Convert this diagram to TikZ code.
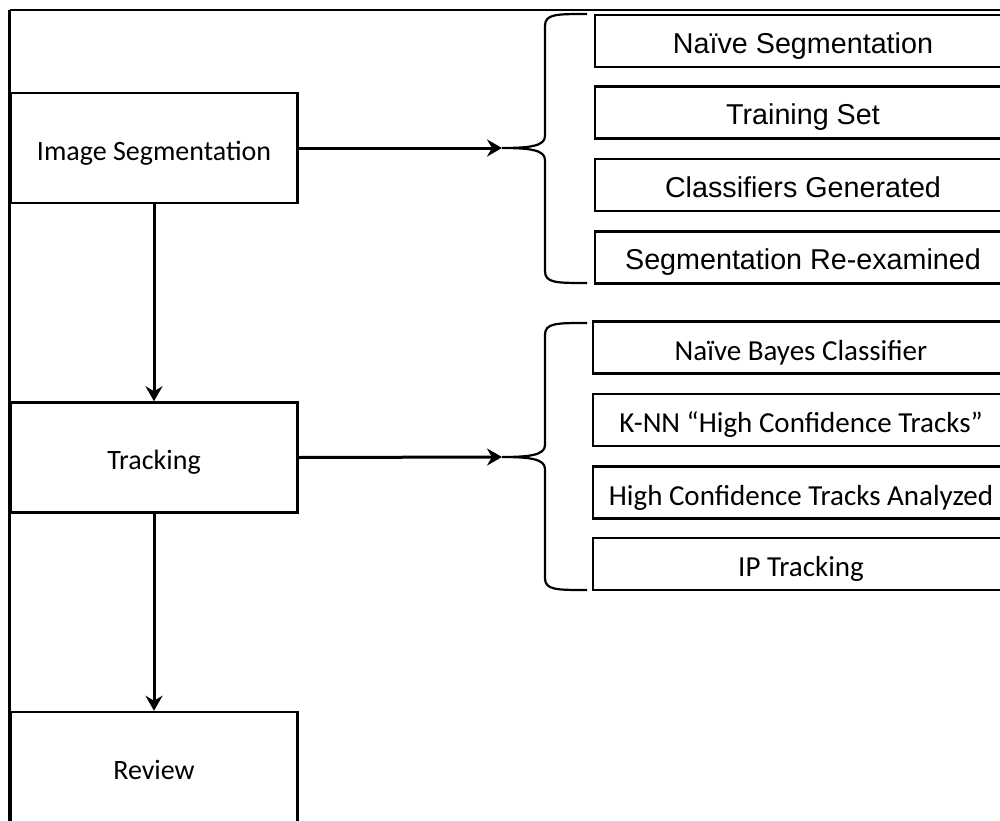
\documentclass[tikz,border=0pt]{standalone}
\usepackage{fontspec}
\setmainfont{Carlito}
\newfontfamily\arialfont{Liberation Sans}
\usetikzlibrary{arrows.meta}
\begin{document}
\begin{tikzpicture}[x=1bp,y=-1bp,
  line width=2.5bp,
  stage/.style={draw, rectangle, minimum width=287bp, minimum height=110bp,
    inner sep=0pt, text height=24bp, text depth=0pt,
    font=\fontsize{28bp}{32bp}\selectfont},
  substep/.style={draw, rectangle, minimum width=416bp, minimum height=52bp,
    inner sep=0pt, text depth=0pt},
  subA/.style={substep, text height=24.5bp,
    font=\arialfont\fontsize{28.7bp}{32bp}\selectfont},
  subB/.style={substep, text height=25.7bp,
    font=\fontsize{29bp}{32bp}\selectfont},
  flow/.style={-{Stealth[length=15bp,width=17bp,inset=5bp]}, line width=3bp},
  brace/.style={line width=2.2bp}]
\useasboundingbox (0,0) rectangle (1000,821);
\clip (0,0) rectangle (1000,821);

% open frame: top and left edges only
\draw (9.5,10) -- (1010,10);
\draw (9.5,10) -- (9.5,830);

% main stages
\node[stage] (seg)    at (154,148)   {Image Segmentation};
\node[stage] (track)  at (154,457.5) {Tracking};
\node[stage] (review) at (154,767)   {Review};

% segmentation sub-steps
\node[subA] (s1) at (803,41)    {Naïve Segmentation};
\node[subA] (s2) at (803,112.5) {Training Set};
\node[subA] (s3) at (803,185)   {Classifiers Generated};
\node[subA] (s4) at (803,257.5) {Segmentation Re-examined};

% tracking sub-steps
\node[subB] (t1) at (801,347.5) {Naïve Bayes Classifier};
\node[subB] (t2) at (801,420)   {K-NN “High Confidence Tracks”};
\node[subB] (t3) at (801,492.5) {High Confidence Tracks Analyzed};
\node[subB] (t4) at (801,564)   {IP Tracking};

% brace tips
\coordinate (b1) at (502,148);
\coordinate (b2) at (502,457);

% braces grouping the sub-steps
\draw[brace] (587,14) .. controls (556,14) and (545,14) .. (545,26)
  -- (545,136) .. controls (545,146) and (530,148) .. (b1)
  .. controls (530,148) and (545,150) .. (545,160)
  -- (545,271) .. controls (545,283) and (556,283) .. (587,283);
\draw[brace] (587,323) .. controls (556,323) and (545,323) .. (545,335)
  -- (545,445) .. controls (545,455) and (530,457) .. (b2)
  .. controls (530,457) and (545,459) .. (545,469)
  -- (545,578) .. controls (545,590) and (556,590) .. (587,590);

% connectors
\draw[flow] (seg.east) -- (b1);
\draw[flow] (track.east) -- (b2);
\draw[flow] (seg.south) -- (track.north);
\draw[flow] (track.south) -- (review.north);
\end{tikzpicture}
\end{document}
